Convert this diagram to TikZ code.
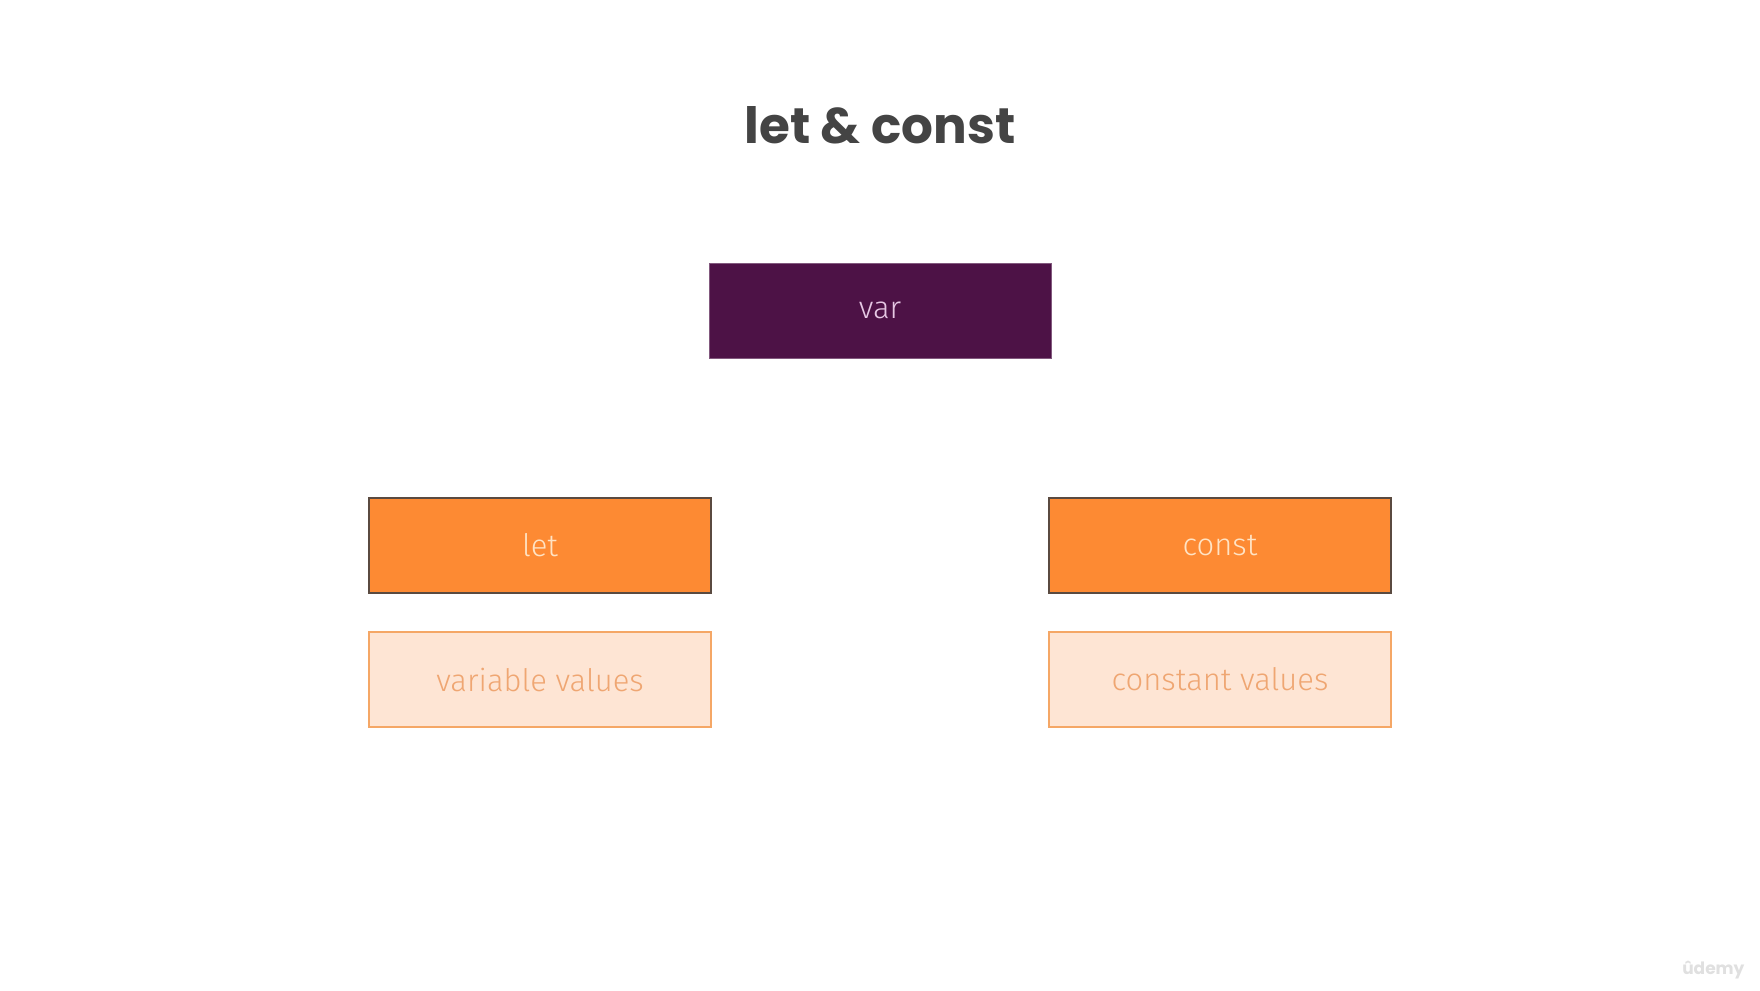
\documentclass[tikz,border=0pt]{standalone}
\usepackage{fontspec}
\setmainfont{Fira Sans}
\newfontfamily\titlefont{Poppins}
\newfontfamily\bodyfont{Fira Sans Light}
\definecolor{titlegray}{HTML}{444444}
\definecolor{varfill}{HTML}{4D1246}
\definecolor{vartext}{HTML}{E6C8E4}
\definecolor{orfill}{HTML}{FD8A33}
\definecolor{ordraw}{HTML}{5A4A40}
\definecolor{ortext}{HTML}{FFE3C4}
\definecolor{pafill}{HTML}{FEE5D4}
\definecolor{padraw}{HTML}{F5A766}
\definecolor{patext}{HTML}{EFA672}
\tikzset{
  box/.style={rectangle, minimum width=342pt, minimum height=95pt, inner sep=0pt, font=\bodyfont\fontsize{31}{36}\selectfont},
  varbox/.style={box, fill=varfill, draw=varfill!70!white, line width=1pt, text=vartext},
  keybox/.style={box, fill=orfill, draw=ordraw, line width=1.6pt, text=ortext},
  descbox/.style={box, fill=pafill, draw=padraw, line width=1.6pt, text=patext},
}
\begin{document}
\begin{tikzpicture}[x=1pt,y=-1pt]
\useasboundingbox (0,0) rectangle (1760,990);
\fill[white] (0,0) rectangle (1760,990);
\node[font=\titlefont\bfseries\fontsize{50}{54}\selectfont, text=titlegray, anchor=base] (title) at (880,143) {let \& const};
\node[varbox] (var) at (880,310.5) {var};
\node[keybox] (let) at (540,545.5) {let};
\node[keybox] (const) at (1220,545.5) {const};
\node[descbox] (varval) at (540,679.5) {variable values};
\node[descbox] (conval) at (1220,679.5) {constant values};
\node[font=\titlefont\bfseries\fontsize{17}{20}\selectfont, text=black!12, anchor=base east] (logo) at (1748,974) {ûdemy};
\end{tikzpicture}
\end{document}
